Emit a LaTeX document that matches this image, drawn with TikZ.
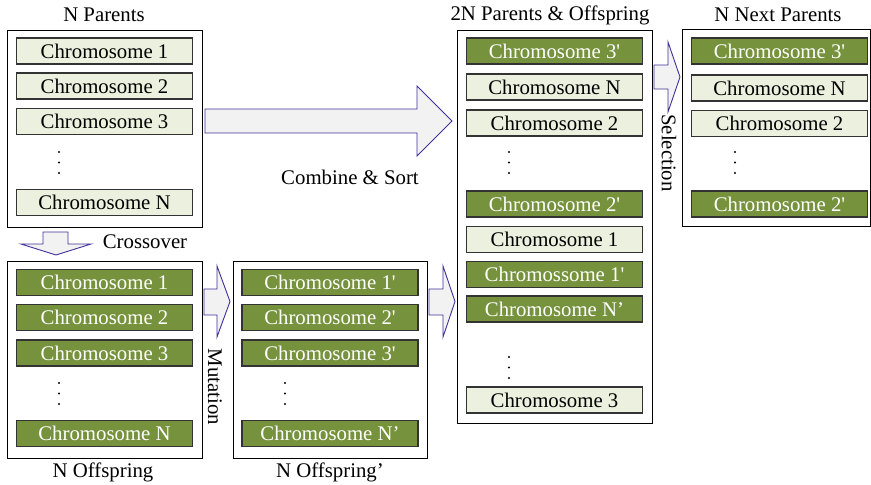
\documentclass[tikz,border=0pt]{standalone}
\usepackage{fontspec}
\setmainfont{Liberation Serif}
\usetikzlibrary{positioning}
\definecolor{leafpale}{HTML}{EBF1DE}
\definecolor{leafdark}{HTML}{76923C}
\definecolor{arrowink}{HTML}{3F3197}
\colorlet{arrowfill}{black!5}
\colorlet{chromink}{black!80}

\tikzset{
  chrom/.style={draw=chromink, line width=1.2pt, minimum width=176pt, minimum height=26pt, inner sep=0pt},
  chrompale/.style={chrom, fill=leafpale},
  chromdark/.style={chrom, fill=leafdark, text=white},
  frame/.style={draw, line width=0.9pt, inner sep=0pt},
  blockarrow/.style={draw=arrowink, fill=arrowfill, line width=0.9pt, line join=miter},
}
\newcommand{\qs}{\textquotesingle}

\begin{document}
\begin{tikzpicture}[x=1pt, y=-1pt, font=\fontsize{20.8}{25}\selectfont]
\useasboundingbox (0,0) rectangle (871,485);

% frames
\node[frame, minimum width=195pt, minimum height=197pt] (parents) at (104.5,128.5) {};
\node[frame, minimum width=195pt, minimum height=197pt] (offspring) at (104.5,359.5) {};
\node[frame, minimum width=194pt, minimum height=197pt] (mutated) at (330,359.5) {};
\node[frame, minimum width=195pt, minimum height=393pt] (pool) at (554.5,226.5) {};
\node[frame, minimum width=188pt, minimum height=197pt] (nextgen) at (776,127.5) {};

% titles and step labels
\node (parentstitle) at (104,15) {N Parents};
\node (pooltitle) at (550,15) {2N Parents \& Offspring};
\node (nexttitle) at (778,15) {N Next Parents};
\node (offtitle) at (103,472) {N Offspring};
\node (muttitle) at (330,472) {N Offspring’};
\node (crosslabel) at (145,242) {Crossover};
\node (combinelabel) at (350,177) {Combine \& Sort};
\node[rotate=-90] (mutlabel) at (215,387) {Mutation};
\node[rotate=-90] (sellabel) at (669,153) {Selection};

% N parents
\node[chrompale] (p1) at (104.5,51) {Chromosome 1};
\node[chrompale] (p2) at (104.5,86) {Chromosome 2};
\node[chrompale] (p3) at (104.5,121.5) {Chromosome 3};
\node[chrompale] (pn) at (104.5,202.5) {Chromosome N};

% N offspring
\node[chromdark] (o1) at (104.5,282.5) {Chromosome 1};
\node[chromdark] (o2) at (104.5,317.5) {Chromosome 2};
\node[chromdark] (o3) at (104.5,353) {Chromosome 3};
\node[chromdark] (on) at (104.5,433.5) {Chromosome N};

% N offspring after mutation
\node[chromdark] (m1) at (330,282.5) {Chromosome 1\qs};
\node[chromdark] (m2) at (330,317.5) {Chromosome 2\qs};
\node[chromdark] (m3) at (330,353) {Chromosome 3\qs};
\node[chromdark] (mn) at (330,433.5) {Chromosome N’};

% 2N pool, sorted
\node[chromdark] (s1) at (554.5,51) {Chromosome 3\qs};
\node[chrompale] (s2) at (554.5,87) {Chromosome N};
\node[chrompale] (s3) at (554.5,123) {Chromosome 2};
\node[chromdark] (s4) at (554.5,204) {Chromosome 2\qs};
\node[chrompale] (s5) at (554.5,239.5) {Chromosome 1};
\node[chromdark] (s6) at (554.5,274.5) {Chromossome 1\qs};
\node[chromdark] (s7) at (554.5,309) {Chromosome N’};
\node[chrompale] (s8) at (554.5,400) {Chromosome 3};

% N next parents
\node[chromdark] (n1) at (779.5,51) {Chromosome 3\qs};
\node[chrompale] (n2) at (779.5,88) {Chromosome N};
\node[chrompale] (n3) at (779.5,123.5) {Chromosome 2};
\node[chromdark] (nn) at (779.5,204) {Chromosome 2\qs};

% vertical dots
\foreach \x/\y in {59/162.5, 59/393.5, 285/393.5, 509/162.5, 509/367.5, 735/162.5}
  \foreach \dy in {-10.5,0,10.5}
    \fill (\x,\y+\dy) circle (1.1);

% block arrows
\draw[blockarrow] (205,109) -- (417,109) -- (417,86) -- (452,121) -- (417,156) -- (417,133) -- (205,133) -- cycle;
\draw[blockarrow] (43,232) -- (68,232) -- (68,244) -- (91,244) -- (56,255) -- (21,244) -- (43,244) -- cycle;
\draw[blockarrow] (204,289) -- (217,289) -- (217,266) -- (230,301.5) -- (217,337) -- (217,315) -- (204,315) -- cycle;
\draw[blockarrow] (429,289) -- (443,289) -- (443,266) -- (455,301.5) -- (443,337) -- (443,315) -- (429,315) -- cycle;
\draw[blockarrow] (654,65) -- (668,65) -- (668,42) -- (680,77) -- (668,112) -- (668,89) -- (654,89) -- cycle;

\end{tikzpicture}
\end{document}
